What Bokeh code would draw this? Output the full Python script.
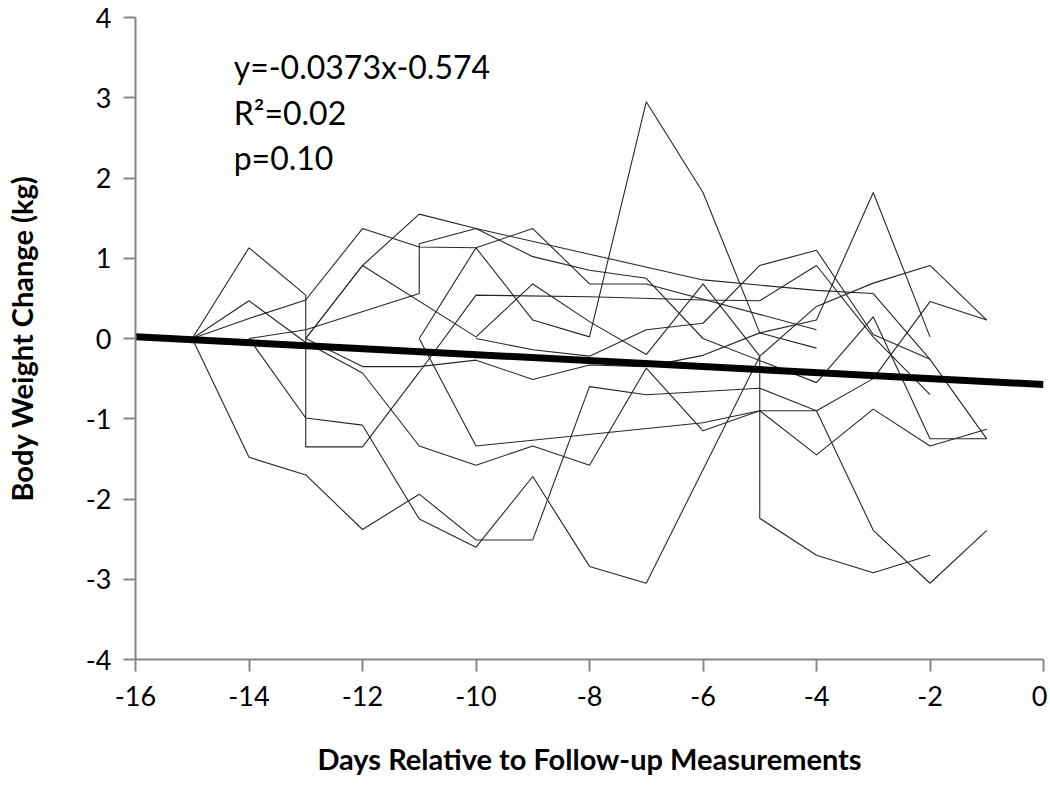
from bokeh.plotting import figure
from bokeh.models import Range1d, FixedTicker, Label
from bokeh.embed import file_html
from bokeh.resources import INLINE

# ---- data ----
sA_day = [-15, -14, -13, -13, -12, -11, -10, -8, -6, -5, -4, -3, -2]
sA_kg = [0, 1.13, 0.54, -1.35, -1.35, -0.42, 0.54, 0.52, 0.48, 0.47, 0.91, 0.02, -0.70]
sB_day = [-15, -14, -13, -12, -11, -10, -9, -8, -7, -6, -5, -4, -3, -2, -1]
sB_kg = [0, 0.47, -0.05, -0.43, -1.34, -1.58, -1.34, -1.58, -0.37, -1.15, -0.90, -1.45, -0.88, -1.34, -1.13]
sC_day = [-15, -14, -13, -12, -11, -10, -9, -8, -7, -5, -4, -3, -2, -1]
sC_kg = [0, -1.48, -1.70, -2.38, -1.94, -2.51, -2.51, -0.60, -0.70, -0.62, -0.90, -2.39, -3.05, -2.39]
sD_day = [-14, -13, -12, -11, -10, -9, -8, -7, -5, -5, -4, -3, -2]
sD_kg = [0, -0.99, -1.08, -2.25, -2.60, -1.72, -2.84, -3.05, -0.22, -2.24, -2.70, -2.92, -2.70]
sE_day = [-14, -13, -11, -11, -10, -9, -8, -7, -6, -4, -3, -2, -1]
sE_kg = [0, 0.11, 0.56, 1.18, 1.37, 1.02, 0.85, 0.75, 0.0, -0.55, 0.27, -1.25, -1.25]
sF_day = [-13, -12, -11, -10, -8, -6, -4, -3, -2, -1]
sF_kg = [0, 0.91, 1.55, 1.37, 1.05, 0.73, 0.60, 0.56, -0.26, -1.25]
sG_day = [-15, -14, -13, -12, -11, -10, -9, -8, -7, -4]
sG_kg = [0, 0.25, 0.48, 1.37, 1.14, 1.13, 1.37, 0.68, 0.68, 0.11]
sH_day = [-11, -10, -9, -8, -7, -6, -5, -4, -3, -2]
sH_kg = [0, 1.13, 0.23, 0.02, 2.95, 1.82, 0.07, 0.23, 1.82, 0.02]
sI_day = [-11, -10, -6, -5, -4, -3, -2, -1]
sI_kg = [0, -1.34, -1.05, -0.90, -0.90, -0.50, 0.46, 0.23]
sJ_day = [-13, -12, -10, -9, -8, -7, -6, -5, -4, -3, -2, -1]
sJ_kg = [0, 0.91, 0.02, 0.68, 0.21, -0.20, 0.68, -0.22, 0.40, 0.69, 0.91, 0.23]
sK_day = [-13, -12, -11, -10, -9, -8, -7, -6, -5, -4]
sK_kg = [0, -0.35, -0.35, -0.27, -0.51, -0.33, -0.35, -0.21, 0.07, -0.12]
sM_day = [-10, -9, -8, -7, -6, -5, -4, -3, -2]
sM_kg = [0, -0.14, -0.22, 0.11, 0.19, 0.91, 1.10, 0.05, -0.26]

trend_day = [-16, 0]
trend_slope = -0.0373
trend_icept = -0.574

x_ticks = [-16, -14, -12, -10, -8, -6, -4, -2, 0]
y_ticks = [-4, -3, -2, -1, 0, 1, 2, 3, 4]

series = [
    (sA_day, sA_kg), (sB_day, sB_kg), (sC_day, sC_kg), (sD_day, sD_kg),
    (sE_day, sE_kg), (sF_day, sF_kg), (sG_day, sG_kg), (sH_day, sH_kg),
    (sI_day, sI_kg), (sJ_day, sJ_kg), (sK_day, sK_kg), (sM_day, sM_kg),
]

FONT = "Lato"
AXIS_COL = "#868686"

p = figure(width=1044, height=783, frame_width=908, frame_height=642,
           x_range=Range1d(-16, 0), y_range=Range1d(-4, 4),
           output_backend="svg", toolbar_location=None,
           min_border_left=132, min_border_right=4, min_border_top=17, min_border_bottom=124)
p.outline_line_color = None
p.xgrid.visible = False
p.ygrid.visible = False
p.background_fill_color = "white"
p.border_fill_color = "white"

for d, w in series:
    p.line(d, w, line_color="#262626", line_width=1.1)

trend_kg = [trend_slope * x + trend_icept for x in trend_day]
p.line(trend_day, trend_kg, line_color="black", line_width=7)

for ax in (p.xaxis[0], p.yaxis[0]):
    ax.axis_line_color = AXIS_COL
    ax.axis_line_width = 2
    ax.major_tick_line_color = AXIS_COL
    ax.major_tick_line_width = 2
    ax.major_tick_out = 12
    ax.major_tick_in = 0
    ax.minor_tick_out = 0
    ax.minor_tick_in = 0
    ax.major_label_text_font = FONT
    ax.major_label_text_font_size = "27px"
    ax.major_label_text_color = "black"
    ax.axis_label_text_font = FONT
    ax.axis_label_text_font_style = "bold"
    ax.axis_label_text_font_size = "29px"
    ax.axis_label_text_color = "black"

p.xaxis.ticker = FixedTicker(ticks=x_ticks)
p.yaxis.ticker = FixedTicker(ticks=y_ticks)
p.xaxis.major_label_overrides = {t: str(t) for t in x_ticks}
p.yaxis.major_label_overrides = {t: str(t) for t in y_ticks}
p.xaxis.axis_label = "Days Relative to Follow-up Measurements"
p.yaxis.axis_label = "Body Weight Change (kg)"
p.xaxis.major_label_standoff = 14
p.xaxis.axis_label_standoff = 32
p.yaxis.major_label_standoff = 12
p.yaxis.axis_label_standoff = 44

ann = ["y=-0.0373x-0.574", "R\u00b2=0.02", "p=0.10"]
ann_y = [3.39, 2.82, 2.25]
for t, yy in zip(ann, ann_y):
    p.add_layout(Label(x=-14.27, y=yy, text=t, text_font=FONT, text_font_size="32px",
                       text_baseline="middle", text_align="left", text_color="black"))

open("out.html", "w").write(file_html(p, INLINE))
